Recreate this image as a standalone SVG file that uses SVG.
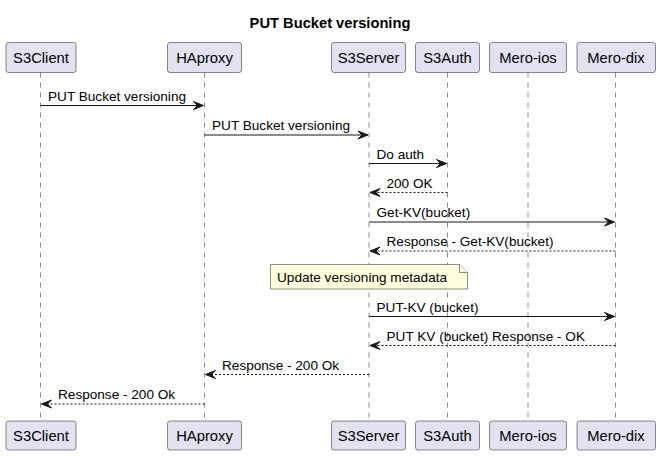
<svg xmlns="http://www.w3.org/2000/svg" width="660" height="456" viewBox="0 0 660 456">
<style>
text{font-family:"Liberation Sans",Arial,sans-serif;fill:#000}
.title{font-size:14.7px;font-weight:bold}
.pbox{fill:#E2E2F0;stroke:#181818;stroke-width:0.5}
.ptxt{font-size:14.8px;text-anchor:middle}
.life{stroke:#181818;stroke-width:0.5;stroke-dasharray:5,5;fill:none}
.msg{stroke:#181818;stroke-width:1;fill:none}
.ret{stroke:#181818;stroke-width:1;stroke-dasharray:2,2;fill:none}
.head{fill:#181818;stroke:#181818;stroke-width:1}
.mtxt{font-size:13.6px}
.note{fill:#FEFFDD;stroke:#181818;stroke-width:0.5}
</style>
<rect width="660" height="456" fill="#FFFFFF"/>
<text class="title" x="330" y="28" text-anchor="middle">PUT Bucket versioning</text>

<g id="lifelines">
<line class="life" x1="40.5" y1="72.5" x2="40.5" y2="421"/>
<line class="life" x1="204.5" y1="72.5" x2="204.5" y2="421"/>
<line class="life" x1="369" y1="72.5" x2="369" y2="421"/>
<line class="life" x1="447.5" y1="72.5" x2="447.5" y2="421"/>
<line class="life" x1="528" y1="72.5" x2="528" y2="421"/>
<line class="life" x1="615.5" y1="72.5" x2="615.5" y2="421"/>
</g>

<g id="S3Client">
<rect class="pbox" x="6" y="42.5" width="70" height="30" rx="2.5"/>
<text class="ptxt" x="41" y="63">S3Client</text>
<rect class="pbox" x="6" y="421" width="70" height="29" rx="2.5"/>
<text class="ptxt" x="41" y="441">S3Client</text>
</g>
<g id="HAproxy">
<rect class="pbox" x="167.5" y="42.5" width="74" height="30" rx="2.5"/>
<text class="ptxt" x="204.5" y="63">HAproxy</text>
<rect class="pbox" x="167.5" y="421" width="74" height="29" rx="2.5"/>
<text class="ptxt" x="204.5" y="441">HAproxy</text>
</g>
<g id="S3Server">
<rect class="pbox" x="331.5" y="42.5" width="74" height="30" rx="2.5"/>
<text class="ptxt" x="368.5" y="63">S3Server</text>
<rect class="pbox" x="331.5" y="421" width="74" height="29" rx="2.5"/>
<text class="ptxt" x="368.5" y="441">S3Server</text>
</g>
<g id="S3Auth">
<rect class="pbox" x="415.5" y="42.5" width="64" height="30" rx="2.5"/>
<text class="ptxt" x="447.5" y="63">S3Auth</text>
<rect class="pbox" x="415.5" y="421" width="64" height="29" rx="2.5"/>
<text class="ptxt" x="447.5" y="441">S3Auth</text>
</g>
<g id="Mero-ios">
<rect class="pbox" x="489.5" y="42.5" width="77" height="30" rx="2.5"/>
<text class="ptxt" x="528" y="63">Mero-ios</text>
<rect class="pbox" x="489.5" y="421" width="77" height="29" rx="2.5"/>
<text class="ptxt" x="528" y="441">Mero-ios</text>
</g>
<g id="Mero-dix">
<rect class="pbox" x="577" y="42.5" width="78.5" height="30" rx="2.5"/>
<text class="ptxt" x="616" y="63">Mero-dix</text>
<rect class="pbox" x="577" y="421" width="78.5" height="29" rx="2.5"/>
<text class="ptxt" x="616" y="441">Mero-dix</text>
</g>

<g id="note">
<path class="note" d="M270.5,264.5 L270.5,289 L467.5,289 L467.5,272.5 L459.5,264.5 Z"/>
<path class="note" d="M459.5,264.5 L459.5,272.5 L467.5,272.5" fill="none"/>
<text class="mtxt" x="277" y="281.5">Update versioning metadata</text>
</g>

<g id="connectors">
<line class="msg" x1="40.5" y1="105.5" x2="202.5" y2="105.5"/>
<polygon class="head" points="193.5,101.5 203.5,105.5 193.5,109.5 197.5,105.5"/>
<text class="mtxt" x="48" y="100.5">PUT Bucket versioning</text>

<line class="msg" x1="204.5" y1="135" x2="367" y2="135"/>
<polygon class="head" points="358,131 368,135 358,139 362,135"/>
<text class="mtxt" x="212" y="130">PUT Bucket versioning</text>

<line class="msg" x1="369" y1="163.5" x2="445.5" y2="163.5"/>
<polygon class="head" points="436.5,159.5 446.5,163.5 436.5,167.5 440.5,163.5"/>
<text class="mtxt" x="376.5" y="158.5">Do auth</text>

<line class="ret" x1="447.5" y1="192.5" x2="371" y2="192.5"/>
<polygon class="head" points="380,188.5 370,192.5 380,196.5 376,192.5"/>
<text class="mtxt" x="386.5" y="187.5">200 OK</text>

<line class="msg" x1="369" y1="222" x2="613.5" y2="222"/>
<polygon class="head" points="604.5,218 614.5,222 604.5,226 608.5,222"/>
<text class="mtxt" x="376.5" y="217">Get-KV(bucket)</text>

<line class="ret" x1="615.5" y1="251" x2="371" y2="251"/>
<polygon class="head" points="380,247 370,251 380,255 376,251"/>
<text class="mtxt" x="386.5" y="246">Response - Get-KV(bucket)</text>

<line class="msg" x1="369" y1="316.5" x2="613.5" y2="316.5"/>
<polygon class="head" points="604.5,312.5 614.5,316.5 604.5,320.5 608.5,316.5"/>
<text class="mtxt" x="376.5" y="311.5">PUT-KV (bucket)</text>

<line class="ret" x1="615.5" y1="345.5" x2="371" y2="345.5"/>
<polygon class="head" points="380,341.5 370,345.5 380,349.5 376,345.5"/>
<text class="mtxt" x="386.5" y="340.5">PUT KV (bucket) Response - OK</text>

<line class="ret" x1="369" y1="374.5" x2="206.5" y2="374.5"/>
<polygon class="head" points="215.5,370.5 205.5,374.5 215.5,378.5 211.5,374.5"/>
<text class="mtxt" x="222" y="369.5">Response - 200 Ok</text>

<line class="ret" x1="204.5" y1="404" x2="42.5" y2="404"/>
<polygon class="head" points="51.5,400 41.5,404 51.5,408 47.5,404"/>
<text class="mtxt" x="58" y="399">Response - 200 Ok</text>
</g>
</svg>
